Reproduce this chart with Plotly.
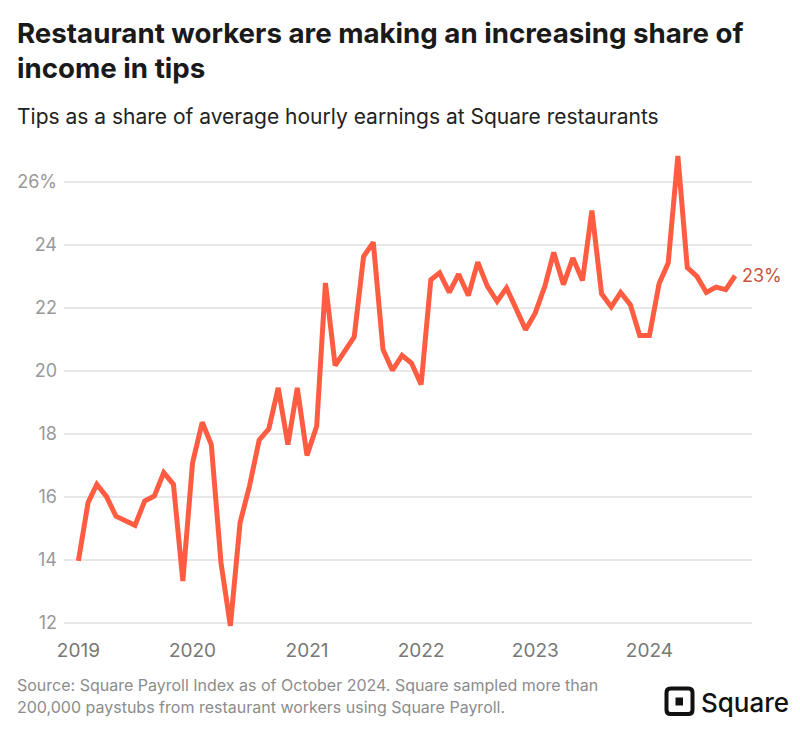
import plotly.graph_objects as go
import pandas as pd

# ---- data ----
start_month = "2019-01-01"
tip_share = [
    13.96, 15.81, 16.39, 16.00, 15.38, 15.22, 15.09, 15.86, 16.02, 16.76, 16.39, 13.32,   # 2019
    17.07, 18.36, 17.65, 13.90, 11.90, 15.17, 16.33, 17.79, 18.15, 19.45, 17.65, 19.45,   # 2020
    17.31, 18.23, 22.78, 20.16, 20.61, 21.07, 23.62, 24.07, 20.67, 20.01, 20.48, 20.24,   # 2021
    19.56, 22.88, 23.10, 22.48, 23.06, 22.38, 23.44, 22.67, 22.20, 22.62, 21.96, 21.30,   # 2022
    21.83, 22.69, 23.75, 22.73, 23.57, 22.86, 25.08, 22.44, 22.02, 22.48, 22.09, 21.11,   # 2023
    21.11, 22.76, 23.41, 26.81, 23.27, 22.99, 22.48, 22.65, 22.57, 23.01,                 # 2024 (Jan-Oct)
]
months = pd.date_range(start_month, periods=len(tip_share), freq="MS")
y_tick_vals = [12, 14, 16, 18, 20, 22, 24, 26]
y_tick_text = ["12", "14", "16", "18", "20", "22", "24", "26%"]
end_label = "23%"

# page body has an 8px margin; work in screen pixels and compensate
OFF = 8
W, H = 800 - OFF, 732 - OFF
ML, MR, MT, MB = 64 - OFF, 48, 150 - OFF, 103
PW, PH = W - ML - MR, H - MT - MB


def px(x):  # screen x -> paper
    return (x - OFF - ML) / PW


def py(y):  # screen y -> paper
    return (H - MB - (y - OFF)) / PH


LINE = "#ff5c42"
fig = go.Figure()
fig.add_trace(go.Scatter(
    x=months, y=tip_share, mode="lines",
    line=dict(color=LINE, width=5),
    hoverinfo="skip", cliponaxis=False,
))

ann = []
# title
ann.append(dict(text="<b>Restaurant workers are making an increasing share of</b>",
                x=px(15), y=py(52), xanchor="left", yanchor="bottom",
                font=dict(family="Inter", size=27.7, color="#1a1a1a")))
ann.append(dict(text="<b>income in tips</b>",
                x=px(15), y=py(87), xanchor="left", yanchor="bottom",
                font=dict(family="Inter", size=27.7, color="#1a1a1a")))
ann.append(dict(text="Tips as a share of average hourly earnings at Square restaurants",
                x=px(15), y=py(131), xanchor="left", yanchor="bottom",
                font=dict(family="Inter", size=21, color="#222222")))
# source
ann.append(dict(text="Source: Square Payroll Index as of October 2024. Square sampled more than",
                x=px(15), y=py(697), xanchor="left", yanchor="bottom",
                font=dict(family="Inter", size=16, color="#8c8c8c")))
ann.append(dict(text="200,000 paystubs from restaurant workers using Square Payroll.",
                x=px(15), y=py(719), xanchor="left", yanchor="bottom",
                font=dict(family="Inter", size=16, color="#8c8c8c")))
# logo text
ann.append(dict(text="Square", x=px(699), y=py(720), xanchor="left", yanchor="bottom",
                font=dict(family="Inter", size=26, color="#111111", weight=500)))
# end label
ann.append(dict(text=end_label, x=months[-1], y=tip_share[-1], xref="x", yref="y",
                xanchor="left", yanchor="middle", xshift=5,
                font=dict(family="Inter", size=18, color="#c9543f")))

for a in ann:
    a.setdefault("xref", "paper")
    a.setdefault("yref", "paper")
    a["showarrow"] = False
    fig.add_annotation(**a)

# logo icon (rounded square with inner square)
def rrect(x0, y0, x1, y1, r):
    X0, X1 = px(x0), px(x1)
    Y0, Y1 = py(y0), py(y1)
    rx, ry = r / PW, r / PH
    return (f"M {X0+rx},{Y0} L {X1-rx},{Y0} Q {X1},{Y0} {X1},{Y0-ry} "
            f"L {X1},{Y1+ry} Q {X1},{Y1} {X1-rx},{Y1} L {X0+rx},{Y1} "
            f"Q {X0},{Y1} {X0},{Y1+ry} L {X0},{Y0-ry} Q {X0},{Y0} {X0+rx},{Y0} Z")

fig.add_shape(type="path", xref="paper", yref="paper",
              path=rrect(666.5, 688.5, 692.5, 714, 4),
              line=dict(color="#111111", width=4), fillcolor="rgba(0,0,0,0)")
fig.add_shape(type="rect", xref="paper", yref="paper",
              x0=px(675.5), x1=px(683), y0=py(705.5), y1=py(697.5),
              line=dict(width=0), fillcolor="#111111")

fig.update_layout(
    width=W, height=H,
    margin=dict(l=ML, r=MR, t=MT, b=MB, autoexpand=False),
    paper_bgcolor="white", plot_bgcolor="white",
    showlegend=False,
    font=dict(family="Inter", color="#888888"),
)
fig.update_xaxes(
    range=["2018-11-16", "2024-11-24"],
    tickformat="%Y", dtick="M12", tick0="2019-01-01",
    showgrid=False, zeroline=False, showline=False, ticks="",
    tickfont=dict(family="Inter", size=19, color="#777777"),
    ticklabelstandoff=8, automargin=False,
)
fig.update_yaxes(
    range=[11.8, 27.0],
    tickvals=y_tick_vals, ticktext=y_tick_text,
    showgrid=True, gridcolor="#e8e8e8", gridwidth=1.5,
    zeroline=False, showline=False, ticks="",
    tickfont=dict(family="Inter", size=18, color="#999999"),
    ticklabelstandoff=6, automargin=False,
)

fig.write_html("out.html")
